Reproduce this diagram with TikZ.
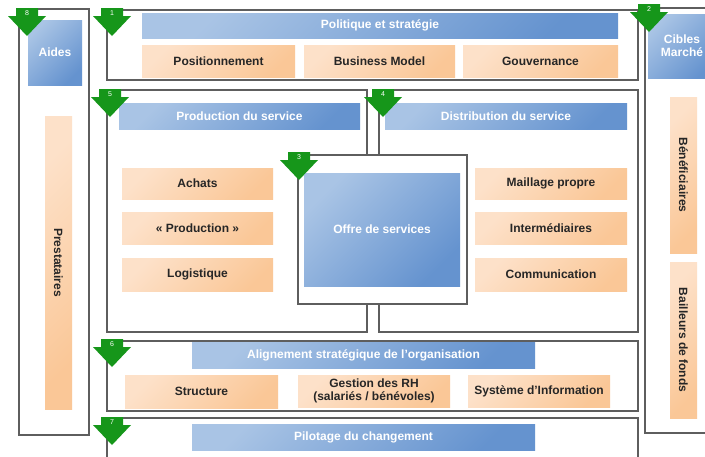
\documentclass[tikz,border=0pt]{standalone}
\usepackage{fontspec}
\setmainfont{Liberation Sans}
\definecolor{framegray}{HTML}{5E5E5E}
\definecolor{bluelight}{HTML}{A9C4E5}
\definecolor{bluedark}{HTML}{6593CF}
\definecolor{peachlight}{HTML}{FDE1C9}
\definecolor{peachdark}{HTML}{FAC797}
\definecolor{arrowgreen}{HTML}{16961A}
\definecolor{peachtext}{HTML}{262626}
\begin{document}
\begin{tikzpicture}[x=1pt,y=-1pt]
    \tikzstyle{frame}=[draw=framegray,line width=1.1pt,fill=white,inner sep=0pt]
    \tikzstyle{bluebar}=[top color=bluelight,bottom color=bluedark,shading angle=45,text=white,inner sep=0pt,align=center,font=\fontsize{12}{13}\selectfont\bfseries]
    \tikzstyle{peach}=[top color=peachlight,bottom color=peachdark,shading angle=45,text=peachtext,inner sep=0pt,align=center,font=\fontsize{12}{13}\selectfont\bfseries]
    \tikzstyle{vert}=[rotate=-90]
    \tikzstyle{greenarrow}=[fill=arrowgreen]
    \tikzstyle{num}=[text=white,font=\fontsize{7}{7}\selectfont,inner sep=0pt]

    \def\bh{26}
    \def\ph{32}

    \clip (0,0) rectangle (705,456);

    % frames
    \node[frame,minimum width=70,minimum height=426]  (f8) at (54,222) {};
    \node[frame,minimum width=531,minimum height=70]  (f1) at (372.5,45) {};
    \node[frame,minimum width=75,minimum height=425]  (f2) at (682.5,220.5) {};
    \node[frame,minimum width=260,minimum height=242] (f5) at (237,211) {};
    \node[frame,minimum width=259,minimum height=242] (f4) at (508.5,211) {};
    \node[frame,minimum width=169,minimum height=149] (f3) at (382.5,229.5) {};
    \node[frame,minimum width=531,minimum height=70]  (f6) at (372.5,376) {};
    \node[frame,minimum width=531,minimum height=52]  (f7) at (372.5,444) {};

    % left column
    \node[bluebar,minimum width=54,minimum height=65] (aides) at (55,52.5) {Aides};
    \node[peach,vert,minimum width=293,minimum height=27] (prest) at (58.5,262.5) {Prestataires};

    % politique
    \node[bluebar,minimum width=476,minimum height=25] (polit) at (380,25.5) {Politique et stratégie};
    \node[peach,minimum width=153,minimum height=\ph] (posit) at (218.5,61) {Positionnement};
    \node[peach,minimum width=151,minimum height=\ph] (busin) at (379.5,61) {Business Model};
    \node[peach,minimum width=155,minimum height=\ph] (gouv)  at (540.5,61) {Gouvernance};

    % production / distribution
    \node[bluebar,minimum width=241,minimum height=\bh] (prod) at (239.5,116) {Production du service};
    \node[bluebar,minimum width=242,minimum height=\bh] (distr) at (506,116) {Distribution du service};
    \node[peach,minimum width=151,minimum height=31] (achats) at (197.5,183.5) {Achats};
    \node[peach,minimum width=151,minimum height=\ph] (fabr) at (197.5,228) {«~Production~»};
    \node[peach,minimum width=151,minimum height=33] (logis) at (197.5,274.5) {Logistique};
    \node[peach,minimum width=152,minimum height=31] (maill) at (551,183.5) {Maillage propre};
    \node[peach,minimum width=152,minimum height=\ph] (inter) at (551,228) {Intermédiaires};
    \node[peach,minimum width=152,minimum height=33] (commu) at (551,274.5) {Communication};
    \node[bluebar,minimum width=156,minimum height=113] (offre) at (382,229.5) {Offre de services};

    % alignement / pilotage
    \node[bluebar,minimum width=343,minimum height=\bh] (align) at (363.5,355) {Alignement stratégique de l’organisation};
    \node[peach,minimum width=153,minimum height=33] (struc) at (201.5,391.5) {Structure};
    \node[peach,minimum width=152,minimum height=\ph] (gesti) at (374,391) {Gestion des RH\\(salariés / bénévoles)};
    \node[peach,minimum width=142,minimum height=\ph] (syste) at (539,391) {Système d’Information};
    \node[bluebar,minimum width=343,minimum height=\bh] (pilot) at (363.5,437) {Pilotage du changement};

    % right column
    \node[bluebar,minimum width=68,minimum height=64] (cibles) at (682,46) {Cibles\\Marché};
    \node[peach,vert,minimum width=156,minimum height=27] (benef) at (683.5,175) {Bénéficiaires};
    \node[peach,vert,minimum width=156,minimum height=27] (baill) at (683.5,340) {Bailleurs de fonds};

    % step arrows
    \foreach \ax/\ay/\an in {27/36/8, 112/36/1, 649/32/2, 110/117/5, 383/117/4, 299/180/3, 112/367/6, 112/445/7} {
        \fill[greenarrow] ({\ax-11},{\ay-28}) -- ({\ax+11},{\ay-28}) -- ({\ax+11},{\ay-20}) -- ({\ax+19},{\ay-20})
            -- (\ax,\ay) -- ({\ax-19},{\ay-20}) -- ({\ax-11},{\ay-20}) -- cycle;
        \node[num] (n\an) at (\ax,{\ay-23}) {\an};
    }
\end{tikzpicture}
\end{document}
